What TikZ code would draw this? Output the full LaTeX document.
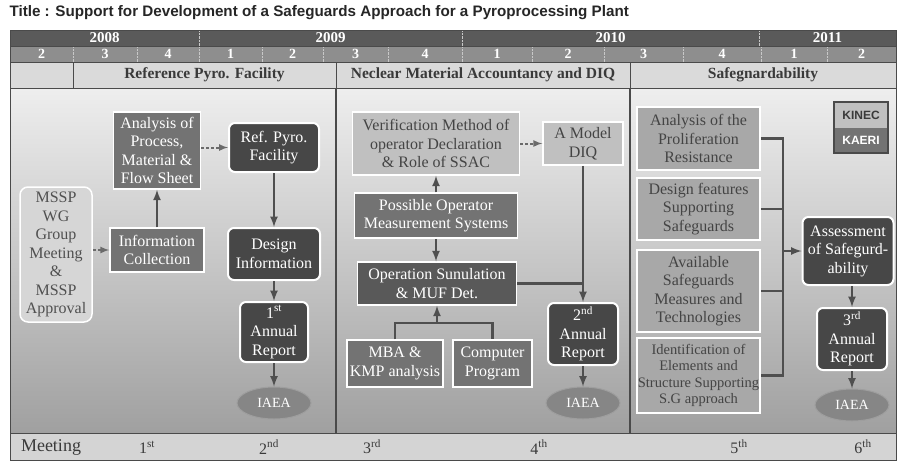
\documentclass[tikz,border=0pt]{standalone}
\usepackage{fontspec}
\setmainfont{Liberation Serif}
\newfontfamily\titlefont{Liberation Sans}
\usetikzlibrary{arrows, positioning, calc, shapes.geometric}
\newcommand{\diagfont}{\fontsize{16}{18.5}\selectfont}
\newcommand{\identfont}{\fontsize{14.5}{16.5}\selectfont}
\newcommand{\iaeafont}{\fontsize{14}{16}\selectfont}
\newcommand{\rowfont}{\fontsize{15}{17}\selectfont\bfseries}

\definecolor{yearfill}{HTML}{5A5A5A}
\definecolor{quarterfill}{HTML}{8E8E8E}
\definecolor{headfill}{HTML}{DADADA}
\definecolor{headtext}{HTML}{3A3A3A}
\definecolor{maintop}{HTML}{EEEEEE}
\definecolor{mainbottom}{HTML}{A0A0A0}
\definecolor{meetfill}{HTML}{D4D4D4}
\definecolor{sepgray}{HTML}{C8C8C8}
\definecolor{divgray}{HTML}{4A4A4A}
\definecolor{kinecfill}{HTML}{C0C0C0}
\definecolor{kinectext}{HTML}{444444}
\definecolor{safefill}{HTML}{A8A8A8}
\definecolor{msspfill}{HTML}{D6D6D6}
\definecolor{mssptext}{HTML}{505050}
\definecolor{kaerifill}{HTML}{737373}
\definecolor{operfill}{HTML}{595959}
\definecolor{reportfill}{HTML}{474747}
\definecolor{iaeafill}{HTML}{868686}
\definecolor{iaeaedge}{HTML}{9E9E9E}
\definecolor{linkgray}{HTML}{4F4F4F}
\definecolor{dashgray}{HTML}{6A6A6A}

\begin{document}
\begin{tikzpicture}[x=1pt, y=-1pt,
    kinecbox/.style={draw=white, line width=1.5pt, fill=kinecfill, text=kinectext,
      align=center, inner sep=0pt, font=\diagfont},
    kaeribox/.style={kinecbox, fill=kaerifill, text=white},
    reportbox/.style={kaeribox, fill=reportfill, rounded corners=6pt, line width=2pt},
    safebox/.style={kinecbox, fill=safefill, minimum width=123pt},
    iaeanode/.style={ellipse, draw=iaeaedge, line width=1pt, fill=iaeafill, text=white,
      minimum width=74pt, minimum height=32pt, inner sep=0pt, font=\iaeafont},
    link/.style={draw=linkgray, line width=2.5pt},
    arrow/.style={link, -latex},
    dasharrow/.style={draw=dashgray, line width=2pt, dash pattern=on 3pt off 2pt, -latex},
    rowtext/.style={text=white, font=\rowfont},
    meettext/.style={text=headtext, font=\fontsize{16}{18}\selectfont}]

  \useasboundingbox (0,0) rectangle (902,467);
  \fill[white] (0,0) rectangle (902,467);

  % title
  \node[anchor=west, text=black!85, font=\titlefont\fontsize{15.2}{17}\selectfont\bfseries] (title) at (6,13)
    {Title : Support for Development of a Safeguards Approach for a Pyroprocessing Plant};

  % years
  \fill[yearfill] (10,30) rectangle (896,46);
  \foreach \from/\to/\yr in {10/199/2008, 199/462/2009, 462/759/2010, 759/896/2011} {
    \node[rowtext] at ({(\from+\to)/2},38) {\yr};
    \draw[sepgray, densely dotted] (\to,30) -- (\to,46);
  }

  % quarters
  \fill[quarterfill] (10,46) rectangle (896,62);
  \foreach \from/\to/\q in {10/73/2, 73/137/3, 137/199/4, 199/262/1, 262/323/2, 323/388/3,
      388/462/4, 462/532/1, 532/604/2, 604/683/3, 683/761/4, 761/827/1, 827/896/2} {
    \node[rowtext, font=\fontsize{14}{16}\selectfont\bfseries] at ({(\from+\to)/2},54) {\q};
    \draw[sepgray, densely dotted] (\to,46) -- (\to,62);
  }

  % phases
  \fill[headfill] (10,62) rectangle (896,88);
  \foreach \x in {73,336,630} \draw[divgray] (\x,62) -- (\x,88);
  \node[text=headtext, font=\fontsize{15.5}{17}\selectfont\bfseries] (phase1) at (204.5,75) {Reference Pyro. Facility};
  \node[text=headtext, font=\fontsize{15.5}{17}\selectfont\bfseries] (phase2) at (483,75) {Neclear Material Accountancy and DIQ};
  \node[text=headtext, font=\fontsize{15.5}{17}\selectfont\bfseries] (phase3) at (763,75) {Safegnardability};

  % work area
  \shade[top color=maintop, bottom color=mainbottom] (10,88) rectangle (896,433);
  \foreach \x in {336,630} \draw[divgray, line width=1.2pt] (\x,88) -- (\x,433);

  % meetings
  \fill[meetfill] (10,433) rectangle (896,460);
  \foreach \y in {46,62,88,433} \draw[divgray] (10,\y) -- (896,\y);
  \draw[divgray, line width=1pt] (10,30) rectangle (896,460);
  \node[meettext, font=\fontsize{18}{20}\selectfont] (meeting) at (51,447) {Meeting};
  \foreach \x/\n/\sup in {147/1/st, 269/2/nd, 372/3/rd, 539/4/th, 739/5/th, 863/6/th}
    \node[meettext] at (\x,447) {\n\textsuperscript{\sup}};

  % Reference Pyro. Facility
  \node[kinecbox, fill=msspfill, text=mssptext, rounded corners=8pt, minimum width=72pt,
    minimum height=135pt] (mssp) at (56,254.5) {MSSP\\WG\\Group\\Meeting\\\&\\MSSP\\Approval};
  \node[kaeribox, minimum width=94pt, minimum height=44pt] (infocol) at (157,250) {Information\\Collection};
  \node[kaeribox, minimum width=87pt, minimum height=77pt] (process) at (157,150.5) {Analysis of\\Process,\\Material \&\\Flow Sheet};
  \node[reportbox, minimum width=90pt, minimum height=49pt] (refpyro) at (274,147.5) {Ref. Pyro.\\Facility};
  \node[reportbox, minimum width=92pt, minimum height=52pt] (designinfo) at (274,254) {Design\\Information};
  \node[reportbox, minimum width=68pt, minimum height=60pt] (report1) at (274,332) {1\textsuperscript{st}\\Annual\\Report};
  \node[iaeanode] (iaea1) at (274,403) {IAEA};

  \draw[dasharrow] (mssp.east |- infocol) -- (infocol.west);
  \draw[arrow] (infocol.north) -- (process.south);
  \draw[dasharrow] (process.east |- refpyro) -- (refpyro.west);
  \draw[arrow] (refpyro.south) -- (designinfo.north);
  \draw[arrow] (designinfo.south) -- (report1.north);
  \draw[arrow] (report1.south) -- (iaea1.north);

  % Nuclear material accountancy and DIQ
  \node[kinecbox, minimum width=167pt, minimum height=63pt] (verif) at (436,143.5) {Verification Method of\\operator Declaration\\\& Role of SSAC};
  \node[kinecbox, minimum width=80pt, minimum height=43pt] (diq) at (583,143.5) {A Model\\DIQ};
  \node[kaeribox, minimum width=163pt, minimum height=45pt] (opmeas) at (436,215.5) {Possible Operator\\Measurement Systems};
  \node[kaeribox, fill=operfill, minimum width=159pt, minimum height=43pt] (opsim) at (437,283.5) {Operation Sunulation\\\& MUF Det.};
  \node[kaeribox, minimum width=96pt, minimum height=47pt] (mbakmp) at (395,363.5) {MBA \&\\KMP analysis};
  \node[kaeribox, minimum width=79pt, minimum height=47pt] (program) at (492.5,363.5) {Computer\\Program};
  \node[reportbox, minimum width=70pt, minimum height=62pt] (report2) at (583,334) {2\textsuperscript{nd}\\Annual\\Report};
  \node[iaeanode] (iaea2) at (583,403) {IAEA};
  \coordinate (mbajoin) at (437,323);

  \draw[arrow] (opmeas.north) -- (opmeas.north |- verif.south);
  \draw[arrow] (opmeas.south) -- (opmeas.south |- opsim.north);
  \draw[dasharrow] (verif) -- (diq);
  \draw[arrow] (diq.south) -- (report2.north);
  \draw[link] (opsim.east) -- (opsim.east -| diq.south);
  \draw[link] (mbakmp.north) |- (mbajoin) -| (program.north);
  \draw[arrow] (mbajoin) -- (opsim.south);
  \draw[arrow] (report2.south) -- (iaea2.north);

  % Safeguardability
  \node[safebox, minimum height=63pt] (prolif) at (698.5,138.5) {Analysis of the\\Proliferation\\Resistance};
  \node[safebox, minimum height=62pt] (sgfeat) at (698.5,209) {Design features\\Supporting\\Safeguards};
  \node[safebox, minimum height=82pt] (sgmeas) at (698.5,291) {Available\\Safeguards\\Measures and\\Technologies};
  \node[safebox, minimum height=75pt, font=\identfont] (sgident) at (698.5,375.5) {Identification of\\Elements and\\Structure Supporting\\S.G approach};
  \node[reportbox, minimum width=91pt, minimum height=68pt] (assess) at (848,251) {Assessment\\of Safegurd-\\ability};
  \node[reportbox, minimum width=70pt, minimum height=62pt] (report3) at (852,339) {3\textsuperscript{rd}\\Annual\\Report};
  \node[iaeanode] (iaea3) at (852,405) {IAEA};
  \coordinate (brx) at (783,251);

  \draw[link] (prolif.east) -| (brx |- sgident.east) -- (sgident.east);
  \draw[link] (sgfeat.east) -- (sgfeat.east -| brx);
  \draw[link] (sgmeas.east) -- (sgmeas.east -| brx);
  \draw[arrow] (brx |- assess.west) -- (assess.west);
  \draw[arrow] (report3.north |- assess.south) -- (report3.north);
  \draw[arrow] (report3.south) -- (iaea3.north);

  % legend
  \node[fill=kinecfill, text=headtext, minimum width=54pt, minimum height=25pt, inner sep=0pt,
    font=\titlefont\fontsize{12}{14}\selectfont\bfseries] (kinec) at (861,115) {KINEC};
  \node[fill=kaerifill, text=white, minimum width=54pt, minimum height=25pt, inner sep=0pt,
    font=\titlefont\fontsize{12}{14}\selectfont\bfseries, below=0pt of kinec] (kaeri) {KAERI};
  \draw[divgray, line width=2pt] (kinec.north west) rectangle (kaeri.south east);
\end{tikzpicture}
\end{document}
